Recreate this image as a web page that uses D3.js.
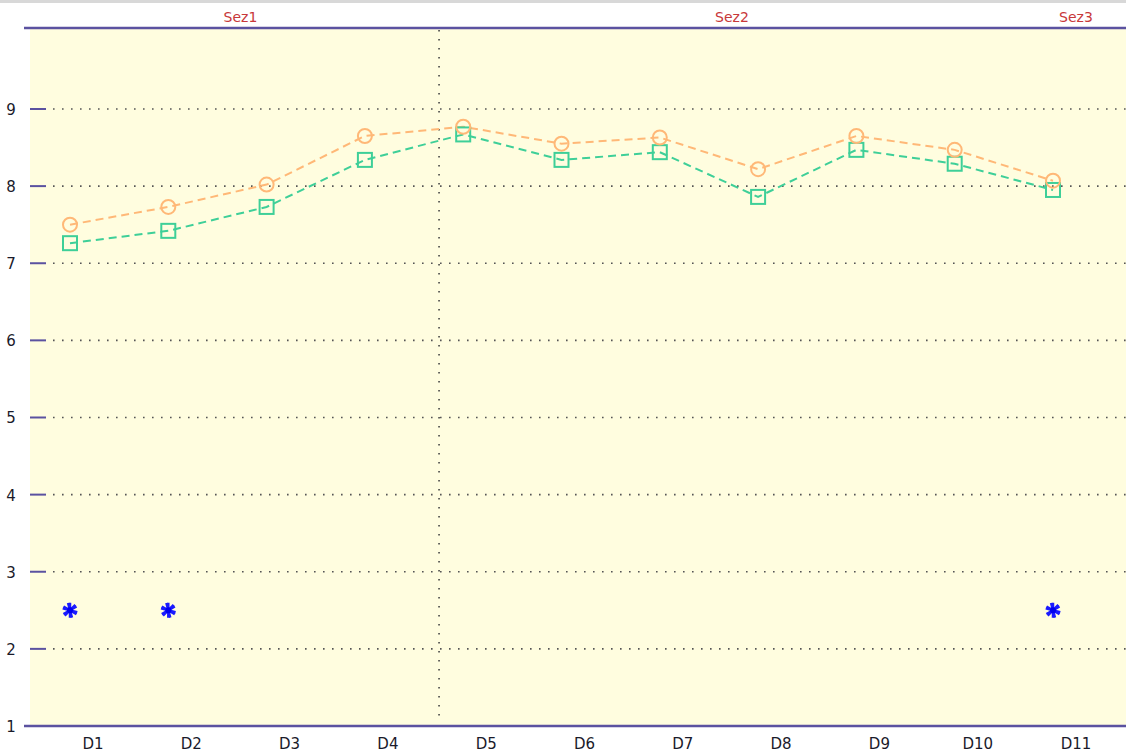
<!DOCTYPE html>
<html>
<head>
<meta charset="utf-8">
<script src="https://cdn.jsdelivr.net/npm/d3@7"></script>
<style>
  body { margin: 0; background: #fff; }
  svg { display: block; font-family: "DejaVu Sans", Verdana, sans-serif; }
</style>
</head>
<body>
<svg id="chart" width="1126" height="752"></svg>
<script>
// categories and series
var categories = ["D1", "D2", "D3", "D4", "D5", "D6", "D7", "D8", "D9", "D10", "D11"];
var seriesA = [7.50, 7.73, 8.02, 8.65, 8.77, 8.55, 8.63, 8.22, 8.65, 8.47, 8.07];
var seriesB = [7.26, 7.42, 7.73, 8.34, 8.67, 8.34, 8.44, 7.86, 8.47, 8.29, 7.95];
var starCats = ["D1", "D2", "D11"];
var starVals = [2.5, 2.5, 2.5];
var sections = ["Sez1", "Sez2", "Sez3"];
var sectionFirst = ["D1", "D5", "D11"];
var sectionLast = ["D4", "D10", "D11"];
var yTicks = [1, 2, 3, 4, 5, 6, 7, 8, 9];

function drawChart() {
  var svg = d3.select("#chart");
  var plotLeft = 30, plotRight = 1126, plotTop = 28, plotBottom = 726;
  var labelShift = 23;
  var axisColor = "#5b52a0";

  var x = d3.scalePoint().domain(categories).range([70, 1053]);
  var y = d3.scaleLinear().domain([1, 10.05]).range([plotBottom, plotTop]);
  var step = x.step();

  // thin grey strip at the very top
  svg.append("rect").attr("x", 0).attr("y", 0).attr("width", 1126).attr("height", 3).attr("fill", "#d8d8d8");

  // plot background
  svg.append("rect")
      .attr("x", plotLeft).attr("y", plotTop)
      .attr("width", plotRight - plotLeft).attr("height", plotBottom - plotTop)
      .attr("fill", "#fffddf");

  var inner = yTicks.filter(function(d) { return d > 1; });

  // horizontal dotted grid
  svg.append("g").selectAll("line")
    .data(inner)
    .enter().append("line")
      .attr("x1", 53).attr("x2", plotRight)
      .attr("y1", function(d) { return y(d); })
      .attr("y2", function(d) { return y(d); })
      .attr("stroke", "#555")
      .attr("stroke-width", 1.6)
      .attr("stroke-dasharray", "1.6,7.4");

  // y tick marks inside plot
  svg.append("g").selectAll("line")
    .data(inner)
    .enter().append("line")
      .attr("x1", plotLeft).attr("x2", 46)
      .attr("y1", function(d) { return y(d); })
      .attr("y2", function(d) { return y(d); })
      .attr("stroke", axisColor)
      .attr("stroke-width", 2);

  // y labels
  svg.append("g").selectAll("text")
    .data(yTicks)
    .enter().append("text")
      .attr("x", 11)
      .attr("y", function(d) { return y(d) + 6; })
      .attr("text-anchor", "middle")
      .attr("font-size", 15)
      .attr("fill", "#1a1a2a")
      .text(function(d) { return d; });

  // section separator between Sez1 and Sez2
  var sepX = x("D4") + labelShift + step / 2 + 2;
  svg.append("line")
      .attr("x1", sepX).attr("x2", sepX)
      .attr("y1", plotTop + 2).attr("y2", plotBottom - 4)
      .attr("stroke", "#444")
      .attr("stroke-width", 1.6)
      .attr("stroke-dasharray", "1.6,7.4");

  // top and bottom axis lines
  [plotTop, plotBottom].forEach(function(yy) {
    svg.append("line")
        .attr("x1", 24).attr("x2", plotRight)
        .attr("y1", yy).attr("y2", yy)
        .attr("stroke", axisColor)
        .attr("stroke-width", 2.5);
  });

  // x labels
  svg.append("g").selectAll("text")
    .data(categories)
    .enter().append("text")
      .attr("x", function(d) { return x(d) + labelShift; })
      .attr("y", 749)
      .attr("text-anchor", "middle")
      .attr("font-size", 15)
      .attr("fill", "#1a1a2a")
      .text(function(d) { return d; });

  // section labels
  svg.append("g").selectAll("text")
    .data(sections)
    .enter().append("text")
      .attr("x", function(d, i) {
        return (x(sectionFirst[i]) + x(sectionLast[i])) / 2 + labelShift;
      })
      .attr("y", 22)
      .attr("text-anchor", "middle")
      .attr("font-size", 14)
      .attr("fill", "#c8383a")
      .text(function(d) { return d; });

  // series lines
  function drawSeries(values, color) {
    var pts = categories.map(function(c, i) { return [x(c), y(values[i])]; });
    svg.append("path")
        .attr("d", d3.line()(pts))
        .attr("fill", "none")
        .attr("stroke", color)
        .attr("stroke-width", 2)
        .attr("stroke-dasharray", "8,5");
    return pts;
  }

  var ptsA = drawSeries(seriesA, "#ffb877");
  var ptsB = drawSeries(seriesB, "#3ecf98");

  svg.append("g").selectAll("rect")
    .data(ptsB)
    .enter().append("rect")
      .attr("x", function(d) { return d[0] - 7; })
      .attr("y", function(d) { return d[1] - 7; })
      .attr("width", 14).attr("height", 14)
      .attr("fill", "none")
      .attr("stroke", "#3ecf98")
      .attr("stroke-width", 2);

  svg.append("g").selectAll("circle")
    .data(ptsA)
    .enter().append("circle")
      .attr("cx", function(d) { return d[0]; })
      .attr("cy", function(d) { return d[1]; })
      .attr("r", 7)
      .attr("fill", "none")
      .attr("stroke", "#ffb877")
      .attr("stroke-width", 2);

  // blue star markers: two asterisks, one turned, for eight arms
  var star = d3.symbol().type(d3.symbolAsterisk).size(160);
  var stars = svg.append("g").selectAll("g")
    .data(starCats)
    .enter().append("g")
      .attr("transform", function(d, i) { return "translate(" + x(d) + "," + y(starVals[i]) + ")"; });
  [0, 45].forEach(function(rot) {
    stars.append("path")
        .attr("transform", "rotate(" + rot + ")")
        .attr("d", star)
        .attr("fill", "none")
        .attr("stroke", "#1a1aff")
        .attr("stroke-width", 2.5);
  });
  stars.append("circle").attr("r", 3).attr("fill", "#0000ee");
}

drawChart();
</script>
</body>
</html>
